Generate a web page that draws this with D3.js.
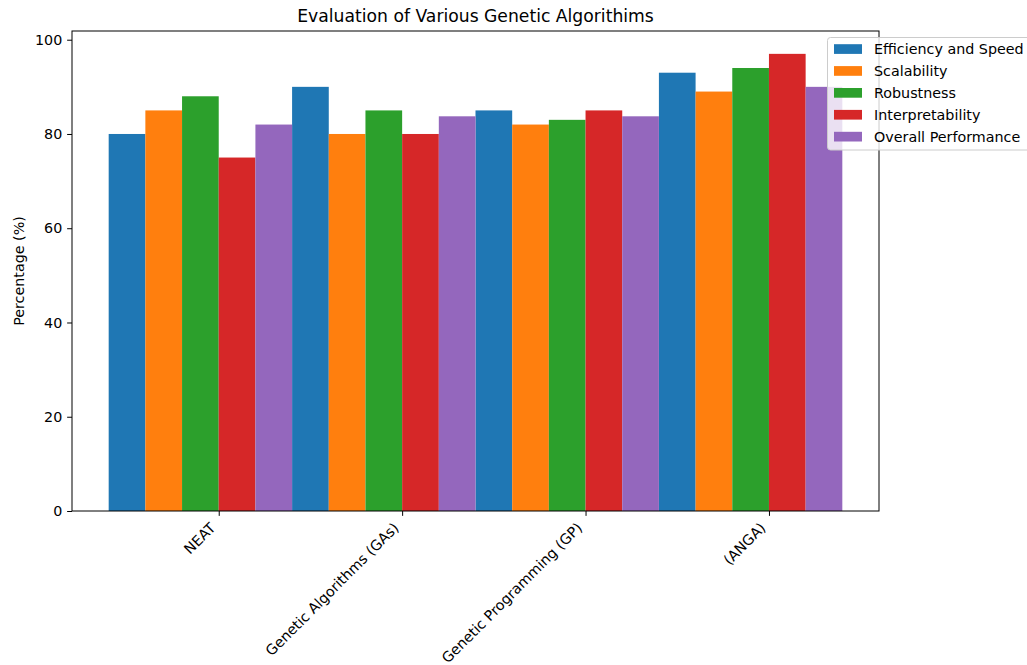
<!DOCTYPE html>
<html>
<head>
<meta charset="utf-8">
<script src="https://cdn.jsdelivr.net/npm/d3@7"></script>
<style>
  html, body { margin: 0; padding: 0; background: #fff; }
  svg { display: block; font-family: "DejaVu Sans", sans-serif; }
</style>
</head>
<body>
<svg id="chart" width="1027" height="665"></svg>
<script>
const categories = ["NEAT", "Genetic Algorithms (GAs)", "Genetic Programming (GP)", "(ANGA)"];
const seriesNames = ["Efficiency and Speed", "Scalability", "Robustness", "Interpretability", "Overall Performance"];
const efficiency = [80, 90, 85, 93];
const scalability = [85, 80, 82, 89];
const robustness = [88, 85, 83, 94];
const interpretability = [75, 80, 85, 97];
const overall = [82, 83.75, 83.75, 90];
const yTicks = [0, 20, 40, 60, 80, 100];
const colors = ["#1f77b4", "#ff7f0e", "#2ca02c", "#d62728", "#9467bd"];
const seriesValues = [efficiency, scalability, robustness, interpretability, overall];

const svg = d3.select("#chart");
const mLeft = 72, mRight = 879, mTop = 31, mBottom = 511;
const barW = 0.2;
const fs = "14.3px";

const x = d3.scaleLinear().domain([-0.8, 3.6]).range([mLeft, mRight]);
const y = d3.scaleLinear().domain([0, 101.85]).range([mBottom, mTop]);

// bars
seriesValues.forEach((vals, i) => {
  svg.append("g").selectAll("rect").data(vals).join("rect")
    .attr("x", (d, k) => x(k - 0.6 + i * barW))
    .attr("width", (d, k) => x(k - 0.6 + (i + 1) * barW) - x(k - 0.6 + i * barW))
    .attr("y", d => y(d))
    .attr("height", d => y(0) - y(d))
    .attr("fill", colors[i]);
});

// y axis
const yAxis = d3.axisLeft(y).tickValues(yTicks).tickSize(4.86).tickPadding(4.86).tickFormat(d3.format("d"));
const gy = svg.append("g").attr("transform", `translate(${mLeft},0)`).call(yAxis);
gy.attr("font-family", "DejaVu Sans");
gy.select(".domain").remove();
gy.selectAll("line").attr("stroke", "#000").attr("stroke-width", 1);
gy.selectAll("text").attr("font-size", fs).attr("fill", "#000");

// x axis
const xAxis = d3.axisBottom(x).tickValues(d3.range(categories.length)).tickSize(4.86).tickFormat(() => "");
const gx = svg.append("g").attr("transform", `translate(0,${mBottom})`).call(xAxis);
gx.select(".domain").remove();
gx.selectAll("line").attr("stroke", "#000").attr("stroke-width", 1);

// rotated x labels
svg.append("g").selectAll("text").data(categories).join("text")
  .attr("transform", (d, k) => `translate(${x(k) - 2.4},${mBottom + 9.7 + 8}) rotate(-45)`)
  .attr("text-anchor", "end")
  .attr("font-size", fs)
  .attr("fill", "#000")
  .text(d => d);

// spines
svg.append("rect").attr("x", mLeft).attr("y", mTop).attr("width", mRight - mLeft).attr("height", mBottom - mTop)
  .attr("fill", "none").attr("stroke", "#000").attr("stroke-width", 1);

// title
svg.append("text").attr("x", (mLeft + mRight) / 2).attr("y", 22)
  .attr("text-anchor", "middle").attr("font-size", "17.2px").attr("fill", "#000")
  .text("Evaluation of Various Genetic Algorithims");

// y label
svg.append("text").attr("transform", `translate(24,${(mTop + mBottom) / 2}) rotate(-90)`)
  .attr("text-anchor", "middle").attr("font-size", fs).attr("fill", "#000")
  .text("Percentage (%)");

// legend
const lg = svg.append("g");
lg.append("rect").attr("x", 827.5).attr("y", 37.5).attr("width", 210).attr("height", 112.5)
  .attr("rx", 3).attr("fill", "#fff").attr("fill-opacity", 0.8).attr("stroke", "#cccccc").attr("stroke-width", 1);
seriesNames.forEach((name, i) => {
  const cy = 49.2 + i * 21.9;
  lg.append("rect").attr("x", 834).attr("y", cy - 5).attr("width", 28).attr("height", 9.7).attr("fill", colors[i]);
  lg.append("text").attr("x", 874).attr("y", cy + 5).attr("font-size", fs).attr("fill", "#000").text(name);
});
</script>
</body>
</html>
